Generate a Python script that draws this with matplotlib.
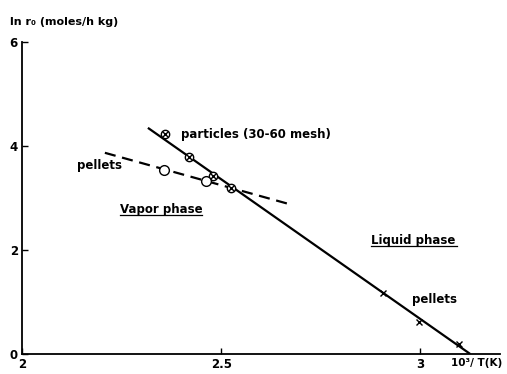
import matplotlib.pyplot as plt
import numpy as np

# particles (30-60 mesh), vapor phase
part_x = [2.358, 2.419, 2.479, 2.524]
part_y = [4.23, 3.79, 3.42, 3.19]
# pellets, vapor phase
pel_x = [2.356, 2.461]
pel_y = [3.54, 3.33]
# pellets, liquid phase
liq_x = [2.907, 2.997, 3.098]
liq_y = [1.17, 0.62, 0.19]
# fitted lines
solid_x = [2.316, 3.125]
solid_y = [4.35, 0.0]
dash_x = [2.208, 2.677]
dash_y = [3.87, 2.87]

xticks = [2, 2.5, 3]
xtick_labels = ["2", "2.5", "3"]
yticks = [0, 2, 4, 6]

plt.rcParams['font.family'] = 'DejaVu Sans'
fig = plt.figure(figsize=(5.07, 3.74), dpi=100)
ax = fig.add_axes([0.0434, 0.0535, 0.943, 0.834])

ax.plot(solid_x, solid_y, color="black", lw=1.6, solid_capstyle="butt")
ax.plot(dash_x, dash_y, color="black", lw=1.6, ls=(0, (5, 3)))

ax.plot(part_x, part_y, "o", mfc="white", mec="black", ms=6, mew=1.0)
ax.plot(part_x, part_y, "x", color="black", ms=4, mew=1.0)
ax.plot(pel_x, pel_y, "o", mfc="white", mec="black", ms=7, mew=1.0)
ax.plot(liq_x, liq_y, "x", color="black", ms=4, mew=1.0)

ax.set_xlim(2, 3.2)
ax.set_ylim(0, 6)
ax.set_xticks(xticks)
ax.set_xticklabels(xtick_labels, fontweight="bold")
ax.set_yticks(yticks)
ax.set_yticklabels([str(v) for v in yticks], fontweight="bold")
ax.tick_params(direction="in", length=4, width=1, labelsize=8.5, pad=3)
ax.spines["top"].set_visible(False)
ax.spines["right"].set_visible(False)
for s in ["left", "bottom"]:
    ax.spines[s].set_linewidth(1.3)

kw = dict(fontsize=8.5, fontweight="bold", color="black")
ax.text(2.4, 4.22, "particles (30-60 mesh)", va="center", ha="left", **kw)
ax.text(2.138, 3.62, "pellets", va="center", ha="left", **kw)
ax.text(2.246, 2.78, "Vapor phase", va="center", ha="left", **kw)
ax.text(2.877, 2.19, "Liquid phase", va="center", ha="left", **kw)
ax.text(2.98, 1.04, "pellets", va="center", ha="left", **kw)
ax.text(1.005, -0.012, "10³/ T(K)", transform=ax.transAxes, ha="right", va="top",
        fontsize=7.5, fontweight="bold")
fig.text(0.02, 0.94, "ln r₀ (moles/h kg)", ha="left", va="center",
         fontsize=8, fontweight="bold")

# underline the phase labels
ax.plot([2.246, 2.452], [2.67, 2.67], color="black", lw=0.9)
ax.plot([2.877, 3.092], [2.08, 2.08], color="black", lw=0.9)

fig.savefig("out.png", dpi=100)
